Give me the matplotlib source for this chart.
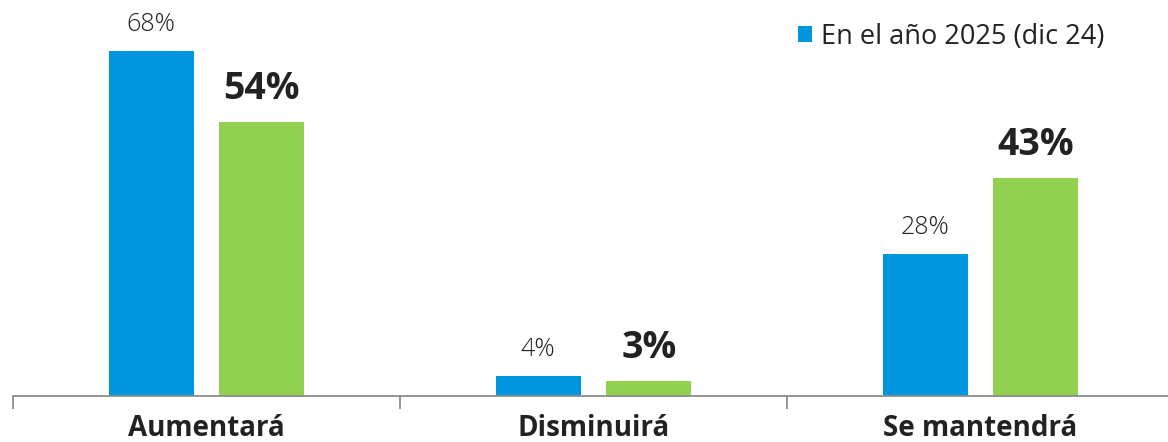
import numpy as np
import matplotlib.pyplot as plt
from matplotlib import font_manager

categories = ['Aumentará', 'Disminuirá', 'Se mantendrá']
serie_2025 = [68, 4, 28]
serie_2026 = [54, 3, 43]
legend_label = 'En el año 2025 (dic 24)'

fams = {f.name for f in font_manager.fontManager.ttflist}
fam = 'Open Sans' if 'Open Sans' in fams else 'DejaVu Sans'
plt.rcParams['font.family'] = [fam, 'DejaVu Sans']

blue = '#0096DF'
green = '#92D050'
dark = '#222222'

fig = plt.figure(figsize=(11.68, 4.42), dpi=100)
ax = fig.add_axes([13/1168, 46/442, 1161/1168, 396/442])

x = np.arange(len(categories))
w = 0.22
off = 0.143
b1 = ax.bar(x - off, serie_2025, w, color=blue, label=legend_label)
b2 = ax.bar(x + off, serie_2026, w, color=green)

for xi, v in zip(x, serie_2025):
    ax.annotate(f'{v}%', (xi - off, v), xytext=(0, 10), textcoords='offset points',
                ha='center', va='bottom', fontsize=18, fontweight=300, color=dark)
for xi, v in zip(x, serie_2026):
    ax.annotate(f'{v}%', (xi + off, v), xytext=(0, 10), textcoords='offset points',
                ha='center', va='bottom', fontsize=27, fontweight='bold', color=dark)

ax.set_xlim(-0.5, 2.5)
ax.set_ylim(0, 78)
ax.set_yticks([])
for s in ['top', 'right', 'left']:
    ax.spines[s].set_visible(False)
ax.spines['bottom'].set_color('#8c8c8c')
ax.spines['bottom'].set_linewidth(1.3)

ax.set_xticks(x)
ax.set_xticklabels(categories, fontsize=20, fontweight='bold', color=dark)
ax.tick_params(axis='x', which='major', length=0, pad=13)
ax.set_xticks([-0.5, 0.5, 1.5, 2.5], minor=True)
ax.tick_params(axis='x', which='minor', length=9, width=1.3, color='#8c8c8c', direction='out')

leg = ax.legend(handles=[b1], loc='upper left', bbox_to_anchor=(784/1168, 1 - 9/442),
                bbox_transform=fig.transFigure, frameon=False, fontsize=19.5,
                handlelength=0.52, handleheight=0.52, handletextpad=0.33,
                borderaxespad=0.0, borderpad=0.5)
for t in leg.get_texts():
    t.set_color(dark)

fig.savefig('out.png', dpi=100)
